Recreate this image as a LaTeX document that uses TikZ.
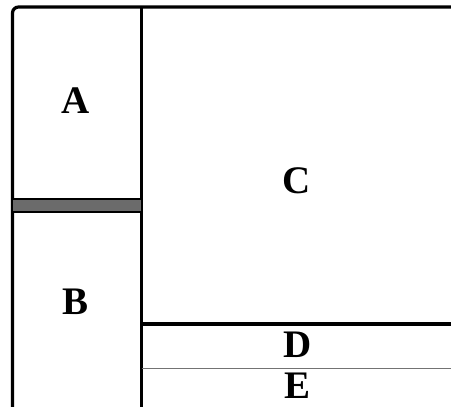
\documentclass[tikz,border=0pt]{standalone}
\usepackage{fontspec}
\setmainfont{Liberation Serif}
\usetikzlibrary{positioning}
\tikzset{
  wall/.style={line width=3.2pt},
  thinwall/.style={line width=0.9pt, black!55},
  bar/.style={fill=black!58, draw=black, line width=1.6pt},
  lbl/.style={font=\bfseries\fontsize{39}{39}\selectfont, inner sep=0pt},
}
\begin{document}
\begin{tikzpicture}[x=1pt,y=1pt]
  \useasboundingbox (0,0) rectangle (451,407);
  % frame and dividers
  \coordinate (bl) at (12.5,-3);
  \coordinate (tl) at (12.5,400);
  \coordinate (tr) at (454,400);
  \coordinate (mt) at (141.5,400);
  \coordinate (mb) at (141.5,-3);
  \coordinate (dl) at (141.5,83);
  \coordinate (dr) at (454,83);
  \coordinate (el) at (141.5,39);
  \coordinate (er) at (454,39);
  \draw[wall, rounded corners=6pt] (bl) -- (tl) -- (tr);
  \draw[wall] (mt) -- (mb);
  \draw[wall] (dl) -- (dr);
  \draw[thinwall] (el) -- (er);
  \draw[bar] (12.5,195) rectangle (141.5,208);
  % labels
  \node[lbl] (A) at (75.5,306.5) {A};
  \node[lbl] (B) at (76,105) {B};
  \node[lbl] (C) at (297,226.5) {C};
  \node[lbl] (D) at (298,62) {D};
  \node[lbl] (E) at (298,21.5) {E};
\end{tikzpicture}
\end{document}
